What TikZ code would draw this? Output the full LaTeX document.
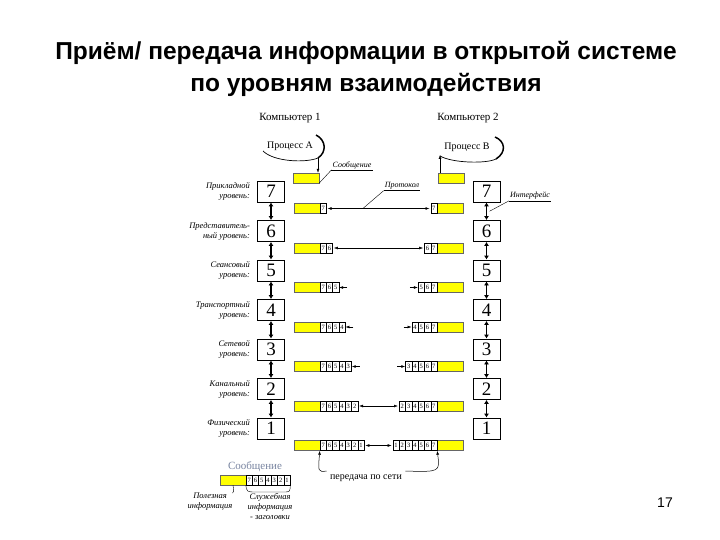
\documentclass[tikz,border=0pt]{standalone}
\usepackage{fontspec}
\setmainfont{Liberation Serif}
\newfontfamily\titlefont{Liberation Sans}
\usetikzlibrary{arrows.meta}
\usetikzlibrary{calc}

\definecolor{msgyellow}{RGB}{255,255,0}
\definecolor{legendgray}{RGB}{120,132,160}

\begin{document}
\begin{tikzpicture}[x=1pt,y=-1pt,>/.tip={Latex[length=4pt,width=2.8pt]},
	laybox/.style={draw,line width=0.8pt,minimum width=27pt,minimum height=21pt,inner sep=0pt,font=\fontsize{19}{19}\selectfont},
	msg/.style={fill=msgyellow,draw=black!60,line width=0.3pt,minimum width=26pt,minimum height=10pt,inner sep=0pt},
	hcell/.style={draw,line width=0.4pt,minimum width=6.3pt,minimum height=10pt,inner sep=0pt,font=\fontsize{6.5}{6.5}\selectfont},
	laytext/.style={align=right,inner sep=0pt,font=\fontsize{8.5}{10}\selectfont\itshape},
	note/.style={inner sep=1pt,font=\fontsize{8}{9}\selectfont\itshape},
	updown/.style={{Latex[length=4pt,width=5pt]}-{Latex[length=4pt,width=5pt]},line width=1.3pt},
	thinarr/.style={<->,line width=0.5pt,shorten <=1pt,shorten >=1pt}]
	\fill[white] (0,0) rectangle (720,540);
	\useasboundingbox (0,0) rectangle (720,540);

	% title
	\draw (366,53) node (title1) [font=\titlefont\bfseries\fontsize{24.5}{26}\selectfont] {Приём/ передача информации в открытой системе};
	\draw (366,85) node (title2) [font=\titlefont\bfseries\fontsize{24.5}{26}\selectfont] {по уровням взаимодействия};
	\draw (665,503) node (pagenum) [font=\titlefont\fontsize{14}{14}\selectfont] {17};

	% computers and processes
	\draw (290,118) node (comp1) [font=\fontsize{11}{11}\selectfont] {Компьютер 1};
	\draw (468,118) node (comp2) [font=\fontsize{11}{11}\selectfont] {Компьютер 2};
	\draw (290,146) node (procA) [font=\fontsize{10}{10}\selectfont] {Процесс А};
	\draw (467,147) node (procB) [font=\fontsize{10}{10}\selectfont] {Процесс В};
	\draw[line width=0.7pt] (263,151) .. controls (274,162) and (306,163) .. (318,158);
	\draw[line width=1.5pt] (318,158) .. controls (327,152) and (326,140) .. (316,135);
	\draw[line width=0.7pt] (440,156) .. controls (452,163) and (486,164) .. (496,159);
	\draw[line width=1.5pt] (496,159) .. controls (507,152) and (505,141) .. (495,137);

	% messages at the top
	\draw (306,178) node (MA) [msg] {};
	\draw (451,178) node (MB) [msg] {};
	\coordinate (paout) at (318,158);
	\coordinate (pbin) at (440,155);
	\draw[->] (paout) -- (paout |- MA.north);
	\draw[->] (pbin |- MB.north) -- (pbin);

	% layers
	\draw (271,191.5) node (L7) [laybox] {7};
	\draw (271,231) node (L6) [laybox] {6};
	\draw (271,270.5) node (L5) [laybox] {5};
	\draw (271,310) node (L4) [laybox] {4};
	\draw (271,349.5) node (L3) [laybox] {3};
	\draw (271,389) node (L2) [laybox] {2};
	\draw (271,428.5) node (L1) [laybox] {1};
	\draw (486.5,191.5) node (R7) [laybox] {7};
	\draw (486.5,231) node (R6) [laybox] {6};
	\draw (486.5,270.5) node (R5) [laybox] {5};
	\draw (486.5,310) node (R4) [laybox] {4};
	\draw (486.5,349.5) node (R3) [laybox] {3};
	\draw (486.5,389) node (R2) [laybox] {2};
	\draw (486.5,428.5) node (R1) [laybox] {1};
	\foreach \a/\b in {7/6,6/5,5/4,4/3,3/2,2/1}{
		\draw[updown] (L\a) -- (L\b);
		\draw[updown] (R\a) -- (R\b);
	}

	\node [laytext,anchor=east] (T7) at ($(L7.west)+(-7,0)$) {Прикладной\\уровень:};
	\node [laytext,anchor=east] (T6) at ($(L6.west)+(-7,0)$) {Представитель-\\ный уровень:};
	\node [laytext,anchor=east] (T5) at ($(L5.west)+(-7,0)$) {Сеансовый\\уровень:};
	\node [laytext,anchor=east] (T4) at ($(L4.west)+(-7,0)$) {Транспортный\\уровень:};
	\node [laytext,anchor=east] (T3) at ($(L3.west)+(-7,0)$) {Сетевой\\уровень:};
	\node [laytext,anchor=east] (T2) at ($(L2.west)+(-7,0)$) {Канальный\\уровень:};
	\node [laytext,anchor=east] (T1) at ($(L1.west)+(-7,0)$) {Физический\\уровень:};

	% packets with headers
	\foreach \k in {1,...,7}{
		\pgfmathsetmacro{\yrow}{208.5+39.5*(\k-1)}
		\node[msg] (PL\k) at (307,\yrow) {};
		\node[msg] (PR\k) at (450,\yrow) {};
		\foreach \j in {1,...,\k}{
			\pgfmathtruncatemacro{\dl}{8-\j}
			\pgfmathtruncatemacro{\dr}{7-\k+\j}
			\node[hcell] (HL\k-\j) at ({320+6.3*(\j-0.5)},\yrow) {\dl};
			\node[hcell] (HR\k-\j) at ({437-6.3*(\k-\j+0.5)},\yrow) {\dr};
		}
	}
	\draw[thinarr] (HL1-1) -- (HR1-1);
	\draw[thinarr] (HL2-2) -- (HR2-1);
	\draw[thinarr] (HL6-6) -- (HR6-1);
	\draw[thinarr] (HL7-7) -- (HR7-1);
	\foreach \k in {3,4,5}{
		\coordinate (SL\k) at ($(HL\k-\k.east)+(8,0)$);
		\coordinate (SR\k) at ($(HR\k-1.west)+(-8,0)$);
		\draw[->,line width=0.5pt] (SL\k) -- (HL\k-\k);
		\draw[->,line width=0.5pt] (SR\k) -- (HR\k-1);
	}

	% notes
	\draw (352,165) node (msgnote) [note] {Сообщение};
	\draw (msgnote.south west) -- (msgnote.south east);
	\draw (MA.south east) -- (msgnote.south west);
	\draw (402,186) node (protnote) [note] {Протокол};
	\draw (protnote.south west) -- (protnote.south east);
	\draw ($(HL1-1.east)!0.35!(HR1-1.west)$) -- (protnote.south west);
	\draw (530,196) node (ifnote) [note] {Интерфейс};
	\draw (ifnote.south west) -- (ifnote.south east);
	\draw ($(R7.south)!0.5!(R6.north)+(3,0)$) -- (ifnote.south west);

	% network
	\draw (366,478) node (net) [font=\fontsize{10}{10}\selectfont] {передача по сети};
	\draw[->,line width=0.5pt] (net.north west) .. controls (318,472) .. (HL7-1.south west);
	\draw[->,line width=0.5pt] (net.north east) .. controls (440,472) .. (HR7-7.south east);

	% legend
	\draw (255,467) node (legtitle) [text=legendgray,font=\fontsize{11}{11}\selectfont] {Сообщение};
	\draw (233,480) node (legmsg) [msg] {};
	\foreach \j in {1,...,7}{
		\pgfmathtruncatemacro{\dl}{8-\j}
		\node[hcell] (LC\j) at ({246+6.3*(\j-0.5)},480) {\dl};
	}
	\draw (210,502) node (useful) [laytext,align=center] {Полезная\\информация};
	\draw (270,507) node (service) [laytext,align=center] {Служебная\\информация\\- заголовки};
	\draw (legmsg.south) .. controls (234,492) .. (useful.north east);
	\draw (LC1.south west) .. controls (247,492) .. (256,492) -- (283,492) .. controls (290,492) .. (LC7.south east);
\end{tikzpicture}
\end{document}
